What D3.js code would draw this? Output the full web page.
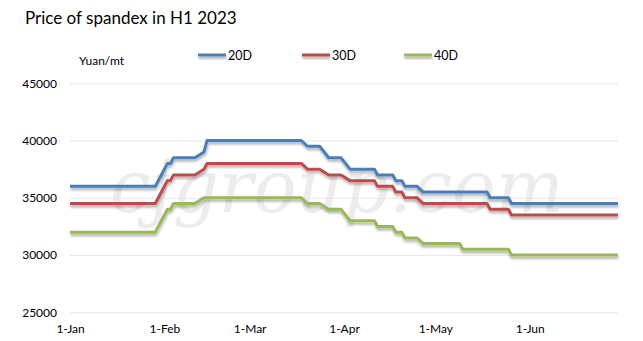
<!DOCTYPE html>
<html>
<head>
<meta charset="utf-8">
<script src="https://cdnjs.cloudflare.com/ajax/libs/d3/7.8.5/d3.min.js"></script>
<style>
  body { margin: 0; background: #fff; }
  text { font-family: Lato, "Open Sans", sans-serif; fill: #000; }
</style>
</head>
<body>
<svg width="643" height="341"></svg>
<script>
// dates where the price changes (linear between them)
var dates = ["2023-01-01", "2023-01-29", "2023-02-02", "2023-02-03", "2023-02-04", "2023-02-11",
    "2023-02-14", "2023-02-15", "2023-03-18", "2023-03-20", "2023-03-24", "2023-03-27",
    "2023-03-31", "2023-04-03", "2023-04-11", "2023-04-12", "2023-04-17", "2023-04-18",
    "2023-04-20", "2023-04-21", "2023-04-25", "2023-04-27", "2023-05-09", "2023-05-10",
    "2023-05-18", "2023-05-19", "2023-05-25", "2023-05-26", "2023-06-30"];

var d20 = [36000, 36000, 38000, 38000, 38500, 38500, 39000, 40000, 40000, 39500, 39500, 38500,
    38500, 37500, 37500, 37000, 37000, 36500, 36500, 36000, 36000, 35500, 35500, 35500,
    35500, 35000, 35000, 34500, 34500];
var d30 = [34500, 34500, 36500, 36500, 37000, 37000, 37500, 38000, 38000, 37500, 37500, 37000,
    37000, 36500, 36500, 36000, 36000, 35500, 35500, 35000, 35000, 34500, 34500, 34500,
    34500, 34000, 34000, 33500, 33500];
var d40 = [32000, 32000, 34000, 34000, 34500, 34500, 35000, 35000, 35000, 34500, 34500, 34000,
    34000, 33000, 33000, 32500, 32500, 32000, 32000, 31500, 31500, 31000, 31000, 30500,
    30500, 30500, 30500, 30000, 30000];

var seriesNames = ["20D", "30D", "40D"];
var colors = ["#4a7ebb", "#be4b48", "#98b954"];
var yTicks = [25000, 30000, 35000, 40000, 45000];
var monthTicks = ["2023-01-01", "2023-02-01", "2023-03-01", "2023-04-01", "2023-05-01", "2023-06-01"];

var parse = d3.timeParse("%Y-%m-%d");
var svg = d3.select("svg");

var x = d3.scaleTime()
    .domain([parse("2023-01-01"), parse("2023-06-30")])
    .range([70, 618]);
var y = d3.scaleLinear()
    .domain([25000, 45000])
    .range([312.3, 83.3]);

// shadow under the lines
var defs = svg.append("defs");
var f = defs.append("filter").attr("id", "shadow")
    .attr("x", "-5%").attr("y", "-50%").attr("width", "110%").attr("height", "250%");
f.append("feDropShadow")
    .attr("dx", 0.5).attr("dy", 2.5)
    .attr("stdDeviation", 1.2)
    .attr("flood-color", "#000")
    .attr("flood-opacity", 0.3);

// title
svg.append("text")
    .attr("x", 25).attr("y", 24)
    .style("font-size", "17px")
    .text("Price of spandex in H1 2023");

svg.append("text")
    .attr("x", 79).attr("y", 65)
    .style("font-size", "12px")
    .text("Yuan/mt");

// gridlines + y labels
var yAxis = svg.append("g")
    .attr("transform", "translate(70,0)")
    .call(d3.axisLeft(y).tickValues(yTicks).tickSize(-548).tickPadding(13).tickFormat(d3.format("d")));
yAxis.select(".domain").remove();
yAxis.selectAll(".tick line").attr("stroke", "#e8e8e8");
yAxis.selectAll(".tick text")
    .style("font-size", "12px")
    .style("font-family", "Lato, sans-serif")
    .attr("fill", "#000");

// x labels
var xAxis = svg.append("g")
    .attr("transform", "translate(0,312.3)")
    .call(d3.axisBottom(x).tickValues(monthTicks.map(parse)).tickSize(0).tickPadding(12)
        .tickFormat(d3.timeFormat("%-d-%b")));
xAxis.select(".domain").remove();
xAxis.selectAll(".tick text")
    .style("font-size", "12px")
    .style("font-family", "Lato, sans-serif")
    .attr("fill", "#000");

// watermark
svg.append("text")
    .attr("x", 337).attr("y", 212)
    .attr("text-anchor", "middle")
    .style("font-family", "'DejaVu Serif', serif")
    .style("font-style", "italic")
    .style("font-size", "72px")
    .style("fill", "#e6e6e6")
    .style("opacity", 0.75)
    .text("cjgroup.com");

// lines
var line = d3.line()
    .x(function (d) { return x(d.date); })
    .y(function (d) { return y(d.value); });

[d20, d30, d40].forEach(function (vals, i) {
    var pts = dates.map(function (d, j) {
        return { date: parse(d), value: vals[j] };
    });
    svg.append("path")
        .datum(pts)
        .attr("fill", "none")
        .attr("stroke", colors[i])
        .attr("stroke-width", 3)
        .attr("stroke-linejoin", "round")
        .attr("filter", "url(#shadow)")
        .attr("d", line);
});

// legend
var legendX = [198, 302, 404];
seriesNames.forEach(function (name, i) {
    var g = svg.append("g").attr("transform", "translate(" + legendX[i] + ",55)");
    g.append("rect")
        .attr("x", 0).attr("y", -1.5)
        .attr("width", 28).attr("height", 3)
        .attr("fill", colors[i])
        .attr("filter", "url(#shadow)");
    g.append("text")
        .attr("x", 30).attr("y", 4.5)
        .style("font-size", "12.5px")
        .text(name);
});
</script>
</body>
</html>
